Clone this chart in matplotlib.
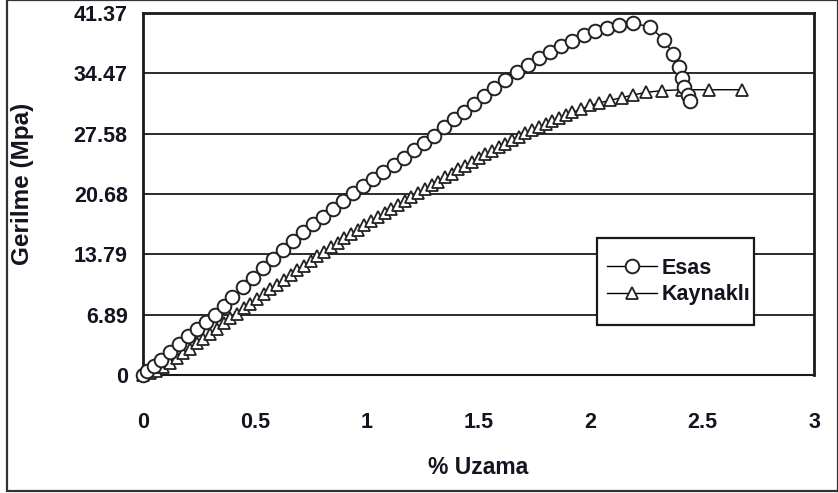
import matplotlib
matplotlib.use('Agg')
import matplotlib.pyplot as plt
from matplotlib.patches import Rectangle

plt.rcParams['font.family'] = ['Liberation Sans', 'DejaVu Sans']
plt.rcParams['font.weight'] = 'bold'

# Esas (base metal) - circles
esas_x = [0, 0.02, 0.05, 0.08, 0.12, 0.16, 0.20, 0.24, 0.28, 0.32, 0.36, 0.40,
          0.445, 0.49, 0.535, 0.58, 0.625, 0.67, 0.715, 0.76, 0.805, 0.85,
          0.895, 0.94, 0.985, 1.03, 1.075, 1.12, 1.165, 1.21, 1.255, 1.30,
          1.345, 1.39, 1.435, 1.48, 1.525, 1.57, 1.62, 1.67, 1.72, 1.77,
          1.82, 1.87, 1.92, 1.97, 2.02, 2.075, 2.13, 2.19, 2.265, 2.33,
          2.37, 2.395, 2.41, 2.42, 2.435, 2.445]
esas_y = [0, 0.4, 1.0, 1.7, 2.6, 3.5, 4.4, 5.3, 6.1, 6.9, 7.9, 8.9,
          10.0, 11.1, 12.2, 13.3, 14.3, 15.3, 16.3, 17.2, 18.1, 19.0,
          19.9, 20.8, 21.6, 22.4, 23.2, 24.0, 24.8, 25.7, 26.5, 27.3,
          28.3, 29.2, 30.1, 31.0, 31.9, 32.8, 33.7, 34.6, 35.4, 36.2,
          36.9, 37.6, 38.2, 38.8, 39.3, 39.7, 40.0, 40.2, 39.8, 38.3,
          36.7, 35.2, 33.9, 32.9, 32.0, 31.3]

# Kaynakli (welded) - triangles
kay_x = [0.00, 0.03, 0.06, 0.09, 0.12, 0.15, 0.18, 0.21, 0.24, 0.27, 0.30,
         0.33, 0.36, 0.39, 0.42, 0.45, 0.48, 0.51, 0.54, 0.57, 0.60, 0.63,
         0.66, 0.69, 0.72, 0.75, 0.78, 0.81, 0.84, 0.87, 0.90, 0.93, 0.96,
         0.99, 1.02, 1.05, 1.08, 1.11, 1.14, 1.17, 1.20, 1.23, 1.26, 1.29,
         1.32, 1.35, 1.38, 1.41, 1.44, 1.47, 1.50, 1.53, 1.56, 1.59, 1.62,
         1.65, 1.68, 1.71, 1.74, 1.77, 1.80, 1.83, 1.86, 1.89, 1.92, 1.96,
         2.00, 2.04, 2.09, 2.14, 2.19, 2.25, 2.32, 2.41, 2.53, 2.68]
kay_y = [0.0, 0.2, 0.5, 0.9, 1.4, 1.9, 2.5, 3.0, 3.6, 4.1, 4.7,
         5.3, 5.9, 6.5, 7.0, 7.6, 8.1, 8.7, 9.2, 9.8, 10.3, 10.9,
         11.4, 12.0, 12.5, 13.0, 13.6, 14.1, 14.6, 15.1, 15.6, 16.1, 16.6,
         17.1, 17.6, 18.0, 18.5, 19.0, 19.4, 19.9, 20.3, 20.8, 21.2, 21.7,
         22.1, 22.6, 23.0, 23.5, 23.9, 24.3, 24.8, 25.2, 25.6, 26.0, 26.4,
         26.8, 27.2, 27.6, 28.0, 28.3, 28.7, 29.0, 29.4, 29.7, 30.0, 30.4,
         30.8, 31.1, 31.4, 31.7, 32.0, 32.3, 32.5, 32.6, 32.6, 32.6]

y_ticks = [0, 6.89, 13.79, 20.68, 27.58, 34.47, 41.37]
y_tick_labels = ['0', '6.89', '13.79', '20.68', '27.58', '34.47', '41.37']
x_ticks = [0, 0.5, 1, 1.5, 2, 2.5, 3]
x_tick_labels = ['0', '0.5', '1', '1.5', '2', '2.5', '3']

W, H = 838, 493
fig = plt.figure(figsize=(W / 100, H / 100), dpi=100)
ax = fig.add_axes([143 / W, 1 - 375 / H, (814 - 143) / W, (375 - 13) / H])

txt = '#141420'

ax.plot(esas_x, esas_y, '-o', color='black', lw=1.0, ms=9.8, mfc='white',
        mec='#222222', mew=1.4, label='Esas', zorder=4, clip_on=False)
ax.plot(kay_x, kay_y, '-^', color='black', lw=1.0, ms=8.5, mfc='white',
        mec='#222222', mew=1.3, label='Kaynaklı', zorder=3, clip_on=False)

ax.set_xlim(0, 3)
ax.set_ylim(0, 41.37)
ax.set_yticks(y_ticks)
ax.set_yticklabels(y_tick_labels)
ax.set_xticks(x_ticks)
ax.set_xticklabels(x_tick_labels)
ax.tick_params(axis='both', length=0, labelsize=15.5, labelcolor=txt)
ax.tick_params(axis='y', pad=11)
ax.tick_params(axis='x', pad=27)
for lab in ax.get_xticklabels() + ax.get_yticklabels():
    lab.set_fontweight('bold')

ax.grid(axis='y', color='#1a1a1a', lw=1.3, zorder=1)
ax.set_axisbelow(True)
for side in ['left', 'top', 'right']:
    ax.spines[side].set_linewidth(2.0)
    ax.spines[side].set_color('#1a1a1a')
ax.spines['bottom'].set_linewidth(1.5)
ax.spines['bottom'].set_color('#1a1a1a')
ax.spines['bottom'].set_zorder(2)

# legend box drawn as a patch, legend itself frameless
x0 = (597 - 143) / 671 * 3
y0 = (375 - 325) / 362 * 41.37
bw = (754 - 597) / 671 * 3
bh = (325 - 238) / 362 * 41.37
ax.add_patch(Rectangle((x0, y0), bw, bh, facecolor='white', edgecolor='#1a1a1a',
                       lw=1.6, zorder=5))
leg = ax.legend(loc='upper left', bbox_to_anchor=((607 - 143) / 671, (375 - 258) / 362),
                frameon=False, borderpad=0, borderaxespad=0, handlelength=2.3,
                handletextpad=0.25, labelspacing=0.25,
                prop={'size': 15.5, 'weight': 'bold'})
leg.set_zorder(6)
for t in leg.get_texts():
    t.set_color(txt)

fig.text(22 / W, 1 - 184 / H, 'Gerilme (Mpa)', rotation=90, ha='center', va='center',
         fontsize=17.5, fontweight='bold', color=txt)
fig.text(478 / W, 1 - 467 / H, '% Uzama', ha='center', va='center',
         fontsize=16.5, fontweight='bold', color=txt)

fig.patches.append(Rectangle((7 / W, 2 / H), 1 - 7 / W, 1 - 2 / H,
                             transform=fig.transFigure, fill=False,
                             edgecolor='#333333', lw=1.6))

fig.savefig('out.png', dpi=100)
